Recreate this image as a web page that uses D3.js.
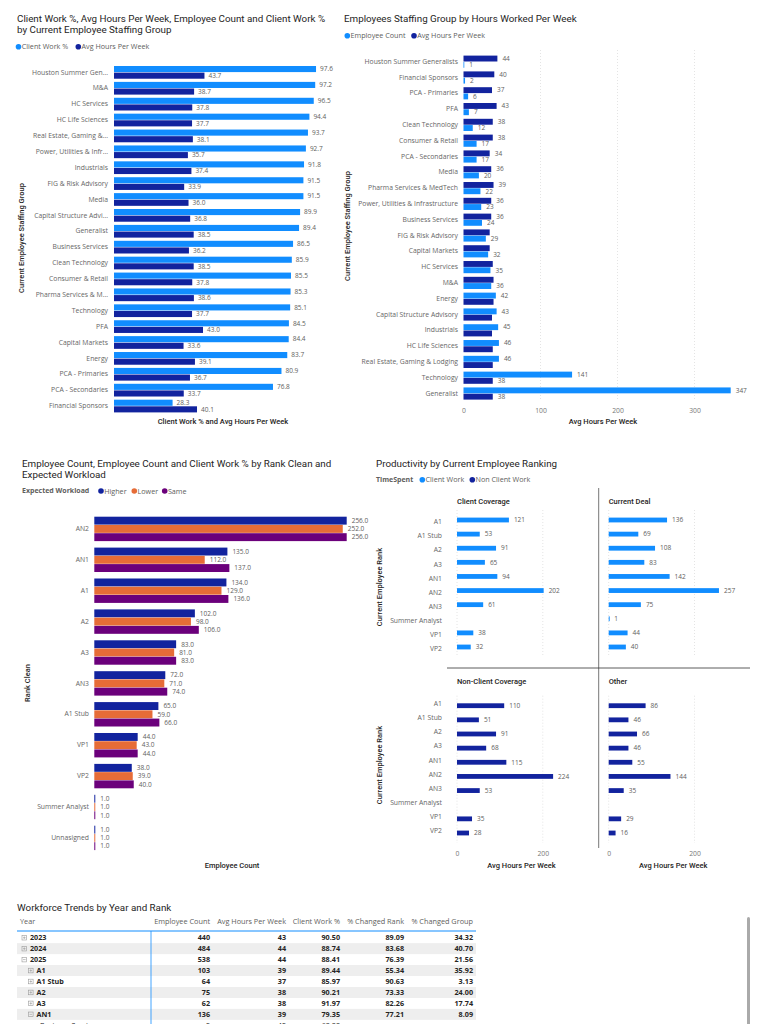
<!DOCTYPE html>
<html>
<head>
<meta charset="utf-8">
<script src="https://cdn.jsdelivr.net/npm/d3@7"></script>
<style>
  body { margin: 0; background: #fff; }
  svg { display: block; font-family: 'Open Sans', sans-serif; }
  .title { font-family: Roboto, sans-serif; font-size: 9.8px; fill: #252423; }
  .leg { font-size: 7.2px; fill: #605E5C; }
  .legb { font-size: 7px; fill: #605E5C; font-weight: bold; }
  .val { font-size: 6.5px; fill: #605E5C; }
  .axt { font-family: Roboto, sans-serif; font-size: 7.5px; font-weight: 500; fill: #252423; }
  .pan { font-family: Roboto, sans-serif; font-size: 7.5px; font-weight: 500; fill: #252423; }
  .th { font-size: 7.3px; fill: #605E5C; }
  .td { font-size: 7.2px; fill: #252423; font-weight: bold; }
</style>
</head>
<body>
<svg></svg>
<script>
'use strict';

const C = { light: '#118DFF', dark: '#12239E', orange: '#E66C37', purple: '#6B007B' };

// chart 1: client work % and avg hours by staffing group
const staffGroupsA = ['Houston Summer Gen...', 'M&A', 'HC Services', 'HC Life Sciences',
  'Real Estate, Gaming &...', 'Power, Utilities & Infr...', 'Industrials', 'FIG & Risk Advisory',
  'Media', 'Capital Structure Advi...', 'Generalist', 'Business Services', 'Clean Technology',
  'Consumer & Retail', 'Pharma Services & M...', 'Technology', 'PFA', 'Capital Markets',
  'Energy', 'PCA - Primaries', 'PCA - Secondaries', 'Financial Sponsors'];
const clientWorkPct = [97.6, 97.2, 96.5, 94.4, 93.7, 92.7, 91.8, 91.5, 91.5, 89.9, 89.4,
  86.5, 85.9, 85.5, 85.3, 85.1, 84.5, 84.4, 83.7, 80.9, 76.8, 28.3];
const avgHoursA = [43.7, 38.7, 37.8, 37.7, 38.1, 35.7, 37.4, 33.9, 36.0, 36.8, 38.5,
  36.2, 38.5, 37.8, 38.6, 37.7, 43.0, 33.6, 39.1, 36.7, 33.7, 40.1];

// chart 2: employee count and avg hours by staffing group
const staffGroupsB = ['Houston Summer Generalists', 'Financial Sponsors', 'PCA - Primaries', 'PFA',
  'Clean Technology', 'Consumer & Retail', 'PCA - Secondaries', 'Media', 'Pharma Services & MedTech',
  'Power, Utilities & Infrastructure', 'Business Services', 'FIG & Risk Advisory', 'Capital Markets',
  'HC Services', 'M&A', 'Energy', 'Capital Structure Advisory', 'Industrials', 'HC Life Sciences',
  'Real Estate, Gaming & Lodging', 'Technology', 'Generalist'];
const employeeCountB = [1, 2, 6, 7, 12, 17, 17, 20, 22, 23, 24, 29, 32, 35, 36, 42, 43, 45, 46, 46, 141, 347];
const avgHoursB = [44, 40, 37, 43, 38, 38, 34, 36, 39, 36, 36, 34, 34, 38, 39, 39, 37, 37, 38, 38, 38, 38];
const hoursTicksB = [0, 100, 200, 300];

// chart 3: employee count by rank and expected workload
const ranksC = ['AN2', 'AN1', 'A1', 'A2', 'A3', 'AN3', 'A1 Stub', 'VP1', 'VP2', 'Summer Analyst', 'Unnasigned'];
const workloads = ['Higher', 'Lower', 'Same'];
const countHigher = [256, 135, 134, 102, 83, 72, 65, 44, 38, 1, 1];
const countLower = [252, 112, 129, 98, 81, 71, 59, 43, 39, 1, 1];
const countSame = [256, 137, 136, 106, 83, 74, 66, 44, 40, 1, 1];

// chart 4: productivity small multiples
const ranksD = ['A1', 'A1 Stub', 'A2', 'A3', 'AN1', 'AN2', 'AN3', 'Summer Analyst', 'VP1', 'VP2'];
const clientCoverage = [121, 53, 91, 65, 94, 202, 61, null, 38, 32];
const currentDeal = [136, 69, 108, 83, 142, 257, 75, 1, 44, 40];
const nonClientCoverage = [110, 51, 91, 68, 115, 224, 53, null, 35, 28];
const otherWork = [86, 46, 66, 46, 55, 144, 35, null, 29, 16];
const hourTicks = [0, 200];

// table
const tableHeaders = ['Year', 'Employee Count', 'Avg Hours Per Week', 'Client Work %', '% Changed Rank', '% Changed Group'];
const rowLabels = ['2023', '2024', '2025', 'A1', 'A1 Stub', 'A2', 'A3', 'AN1', 'Business Services'];
const rowLevels = [0, 0, 0, 1, 1, 1, 1, 1, 2];
const rowOpen = [false, false, true, false, false, false, false, true, null];
const colEmployees = ['440', '484', '538', '103', '64', '75', '62', '136', '2'];
const colHours = ['43', '44', '44', '39', '37', '38', '38', '39', '42'];
const colClient = ['90.50', '88.74', '88.41', '89.44', '85.97', '90.21', '91.97', '79.35', '60.00'];
const colRank = ['89.09', '83.68', '76.39', '55.34', '90.63', '73.33', '82.26', '77.21', ''];
const colGroup = ['34.32', '40.70', '21.56', '35.92', '3.13', '24.00', '17.74', '8.09', ''];

const svg = d3.select('svg').attr('width', 768).attr('height', 1024);

function title(lines, x, y) {
  lines.forEach((t, i) => svg.append('text').attr('class', 'title')
    .attr('x', x).attr('y', y + i * 11.8).text(t));
}

function legend(y, items, label) {
  if (label) {
    svg.append('text').attr('class', 'legb').attr('x', label[0]).attr('y', y)
      .attr('dy', '0.35em').text(label[1]);
  }
  items.forEach(([x, color, text]) => {
    svg.append('circle').attr('cx', x).attr('cy', y).attr('r', 2.8).attr('fill', color);
    svg.append('text').attr('class', 'leg').attr('x', x + 3.2).attr('y', y)
      .attr('dy', '0.35em').text(text);
  });
}

function catAxis(scale, x, dy) {
  const g = svg.append('g')
    .attr('transform', `translate(${x}, ${dy || 0})`)
    .call(d3.axisLeft(scale).tickSize(0).tickPadding(0));
  g.select('.domain').remove();
  g.attr('font-family', null).attr('font-size', 6.8).style('color', '#666');
  return g;
}

function valAxis(scale, ticks, x, y) {
  const g = svg.append('g')
    .attr('transform', `translate(${x}, ${y})`)
    .call(d3.axisBottom(scale).tickValues(ticks).tickSize(0).tickPadding(2));
  g.select('.domain').remove();
  g.attr('font-family', null).attr('font-size', 6.8).style('color', '#777');
  return g;
}

function yTitle(text, x, y) {
  svg.append('text').attr('class', 'axt')
    .attr('text-anchor', 'middle')
    .attr('transform', `translate(${x}, ${y}) rotate(-90)`)
    .text(text);
}

function xTitle(text, x, y) {
  svg.append('text').attr('class', 'axt').attr('text-anchor', 'middle')
    .attr('x', x).attr('y', y).text(text);
}

// ---------- chart 1 ----------
title(['Client Work %, Avg Hours Per Week, Employee Count and Client Work %',
  'by Current Employee Staffing Group'], 17, 21.5);
legend(46.7, [[18.5, C.light, 'Client Work %'], [78.3, C.dark, 'Avg Hours Per Week']]);

const y1 = d3.scaleBand().domain(staffGroupsA).range([66, 412.4]).paddingInner(0.2);
const x1 = d3.scaleLinear().domain([0, 100]).range([114, 321]);
const s1 = d3.scaleBand().domain(['cw', 'hrs']).range([0, y1.bandwidth()]).paddingInner(0.08);

const rows1 = staffGroupsA.map((g, i) => ({ g, cw: clientWorkPct[i], hrs: avgHoursA[i] }));
[['cw', C.light], ['hrs', C.dark]].forEach(([key, color]) => {
  svg.append('g').selectAll('rect').data(rows1).join('rect')
    .attr('x', x1(0))
    .attr('y', d => y1(d.g) + s1(key))
    .attr('width', d => x1(d[key]) - x1(0))
    .attr('height', s1.bandwidth())
    .attr('fill', color);
  svg.append('g').selectAll('text').data(rows1).join('text')
    .attr('class', 'val')
    .attr('x', d => x1(d[key]) + 4)
    .attr('y', d => y1(d.g) + s1(key) + s1.bandwidth() / 2)
    .attr('dy', '0.35em')
    .text(d => d3.format('.1f')(d[key]));
});
catAxis(y1, 108);
yTitle('Current Employee Staffing Group', 24, 238);
xTitle('Client Work % and Avg Hours Per Week', 223, 424);

// ---------- chart 2 ----------
title(['Employees Staffing Group by Hours Worked Per Week'], 344, 22.3);
legend(35.7, [[347.3, C.light, 'Employee Count'], [414, C.dark, 'Avg Hours Per Week']]);

const y2 = d3.scaleBand().domain(staffGroupsB).range([55.6, 55.6 + 21 * 15.8 + 12.2]).paddingInner(0.23);
const x2 = d3.scaleLinear().domain([0, 347]).range([463.5, 730.7]);
const s2 = d3.scaleBand().domain(['top', 'bottom']).range([0, y2.bandwidth()]).paddingInner(0.06);

svg.append('g').selectAll('line').data(hoursTicksB.slice(1)).join('line')
  .attr('x1', d => x2(d)).attr('x2', d => x2(d))
  .attr('y1', 50).attr('y2', 400)
  .attr('stroke', '#e4e4e4').attr('stroke-dasharray', '1,2');

const bars2 = [];
staffGroupsB.forEach((g, i) => {
  const cnt = employeeCountB[i], hrs = avgHoursB[i];
  const hrsTop = hrs >= cnt;
  bars2.push({ g, v: hrs, pos: hrsTop ? 'top' : 'bottom', color: C.dark, show: Math.abs(hrs - cnt) >= 10 });
  bars2.push({ g, v: cnt, pos: hrsTop ? 'bottom' : 'top', color: C.light, show: true });
});
svg.append('g').selectAll('rect').data(bars2).join('rect')
  .attr('x', x2(0))
  .attr('y', d => y2(d.g) + s2(d.pos))
  .attr('width', d => x2(d.v) - x2(0))
  .attr('height', s2.bandwidth())
  .attr('fill', d => d.color);
svg.append('g').selectAll('text').data(bars2.filter(d => d.show)).join('text')
  .attr('class', 'val')
  .attr('x', d => x2(d.v) + 5)
  .attr('y', d => y2(d.g) + s2(d.pos) + s2.bandwidth() / 2)
  .attr('dy', '0.35em')
  .text(d => d3.format('d')(d.v));
catAxis(y2, 458);
valAxis(x2, hoursTicksB, 0, 406);
yTitle('Current Employee Staffing Group', 350, 226);
xTitle('Avg Hours Per Week', 603, 424);

// ---------- chart 3 ----------
title(['Employee Count, Employee Count and Client Work % by Rank Clean and',
  'Expected Workload'], 22, 466.5);
legend(491, [[101, C.dark, 'Higher'], [134.3, C.orange, 'Lower'], [164.7, C.purple, 'Same']],
  [22, 'Expected Workload']);

const y3 = d3.scaleBand().domain(ranksC).range([516.7, 850.1]).paddingInner(0.21);
const x3 = d3.scaleLinear().domain([0, 256]).range([94.3, 346.7]);
const s3 = d3.scaleBand().domain(workloads).range([0, y3.bandwidth()]).paddingInner(0.04);
const wlColor = d3.scaleOrdinal().domain(workloads).range([C.dark, C.orange, C.purple]);
const wlValues = { Higher: countHigher, Lower: countLower, Same: countSame };

const bars3 = [];
ranksC.forEach((r, i) => workloads.forEach(w => bars3.push({ r, w, v: wlValues[w][i] })));
svg.append('g').selectAll('rect').data(bars3).join('rect')
  .attr('x', x3(0))
  .attr('y', d => y3(d.r) + s3(d.w))
  .attr('width', d => Math.max(0.8, x3(d.v) - x3(0)))
  .attr('height', s3.bandwidth())
  .attr('fill', d => wlColor(d.w));
svg.append('g').selectAll('text').data(bars3).join('text')
  .attr('class', 'val')
  .attr('x', d => x3(d.v) + 5)
  .attr('y', d => y3(d.r) + s3(d.w) + s3.bandwidth() / 2)
  .attr('dy', '0.35em')
  .text(d => d3.format('.1f')(d.v));
catAxis(y3, 89);
yTitle('Rank Clean', 30, 683);
xTitle('Employee Count', 232, 868);

// ---------- chart 4 ----------
title(['Productivity by Current Employee Ranking'], 376, 466.5);
legend(479.7, [[422.3, C.light, 'Client Work'], [472.3, C.dark, 'Non Client Work']], [376, 'TimeSpent']);

const yTop = d3.scalePoint().domain(ranksD).range([520, 647]);
const yBot = d3.scalePoint().domain(ranksD).range([705.7, 833]);
const x4 = d3.scaleLinear().domain([0, 310]).range([0, 133]);

const panels = [
  { name: 'Client Coverage', vals: clientCoverage, color: C.light, x0: 457, y: yTop, ty: 504 },
  { name: 'Current Deal', vals: currentDeal, color: C.light, x0: 608.7, y: yTop, ty: 504 },
  { name: 'Non-Client Coverage', vals: nonClientCoverage, color: C.dark, x0: 457, y: yBot, ty: 683.5 },
  { name: 'Other', vals: otherWork, color: C.dark, x0: 608.7, y: yBot, ty: 683.5 }
];

panels.forEach(p => {
  const [ya, yb] = p.y.range();
  svg.append('g').selectAll('line').data(hourTicks).join('line')
    .attr('x1', d => p.x0 + x4(d)).attr('x2', d => p.x0 + x4(d))
    .attr('y1', ya - 10).attr('y2', yb + 10)
    .attr('stroke', '#e4e4e4').attr('stroke-dasharray', '1,2');
  svg.append('text').attr('class', 'pan').attr('x', p.x0).attr('y', p.ty).text(p.name);
  const data = ranksD.map((r, i) => ({ r, v: p.vals[i] })).filter(d => d.v !== null);
  svg.append('g').selectAll('rect').data(data).join('rect')
    .attr('x', p.x0)
    .attr('y', d => p.y(d.r) - 2.4)
    .attr('width', d => Math.max(1, x4(d.v)))
    .attr('height', 4.8)
    .attr('fill', p.color);
  svg.append('g').selectAll('text').data(data).join('text')
    .attr('class', 'val')
    .attr('x', d => p.x0 + x4(d.v) + 5)
    .attr('y', d => p.y(d.r))
    .attr('dy', '0.35em')
    .text(d => d.v);
});

catAxis(yTop, 442, 1.5);
catAxis(yBot, 442, -2.4);

[457, 608.7].forEach(x0 => {
  valAxis(x4, hourTicks, x0, 849);
  xTitle('Avg Hours Per Week', x0 + 64.5, 867.5);
});
yTitle('Current Employee Rank', 382, 587);
yTitle('Current Employee Rank', 382, 765);

svg.append('line').attr('x1', 598.7).attr('x2', 598.7).attr('y1', 488).attr('y2', 848)
  .attr('stroke', '#777').attr('stroke-width', 1);
svg.append('line').attr('x1', 447).attr('x2', 750).attr('y1', 668).attr('y2', 668)
  .attr('stroke', '#333').attr('stroke-width', 0.8);

// ---------- table ----------
title(['Workforce Trends by Year and Rank'], 17, 910.5);

const colRight = [null, 210, 286, 340, 404, 473];
const rowY = d3.scaleLinear().domain([0, 1]).range([937.7, 948.65]);
const cols = [colEmployees, colHours, colClient, colRank, colGroup];

tableHeaders.forEach((h, i) => {
  svg.append('text').attr('class', 'th')
    .attr('x', i === 0 ? 20 : colRight[i])
    .attr('text-anchor', i === 0 ? 'start' : 'end')
    .attr('y', 921.7).attr('dy', '0.35em').text(h);
});

rowLabels.forEach((lab, i) => {
  const cy = rowY(i);
  if (i % 2 === 1) {
    svg.append('rect').attr('x', 17).attr('y', cy - 5.5).attr('width', 459).attr('height', 11)
      .attr('fill', '#eeeeee');
  }
  const indent = rowLevels[i] * 6.5;
  if (rowOpen[i] !== null) {
    const bx = 22 + indent;
    svg.append('rect').attr('x', bx).attr('y', cy - 2.3).attr('width', 4.6).attr('height', 4.6)
      .attr('fill', 'none').attr('stroke', '#999').attr('stroke-width', 0.6);
    svg.append('line').attr('x1', bx + 1).attr('x2', bx + 3.6).attr('y1', cy).attr('y2', cy)
      .attr('stroke', '#999').attr('stroke-width', 0.6);
    if (!rowOpen[i]) {
      svg.append('line').attr('x1', bx + 2.3).attr('x2', bx + 2.3).attr('y1', cy - 1.3).attr('y2', cy + 1.3)
        .attr('stroke', '#999').attr('stroke-width', 0.6);
    }
  }
  const weight = rowLevels[i] === 2 ? 'normal' : null;
  svg.append('text').attr('class', 'td')
    .attr('x', rowLevels[i] === 2 ? 40 : 30 + indent)
    .attr('y', cy).attr('dy', '0.35em')
    .style('font-weight', weight)
    .text(lab);
  cols.forEach((col, j) => {
    svg.append('text').attr('class', 'td')
      .attr('x', colRight[j + 1]).attr('text-anchor', 'end')
      .attr('y', cy).attr('dy', '0.35em')
      .style('font-weight', weight)
      .text(col[i]);
  });
});

svg.append('line').attr('x1', 17).attr('x2', 476).attr('y1', 931).attr('y2', 931)
  .attr('stroke', C.light).attr('stroke-width', 1);
svg.append('line').attr('x1', 151).attr('x2', 151).attr('y1', 931).attr('y2', 1024)
  .attr('stroke', C.light).attr('stroke-width', 0.8);
svg.append('rect').attr('x', 747).attr('y', 917).attr('width', 3).attr('height', 110)
  .attr('rx', 1.5).attr('fill', '#aaa');
</script>
</body>
</html>
